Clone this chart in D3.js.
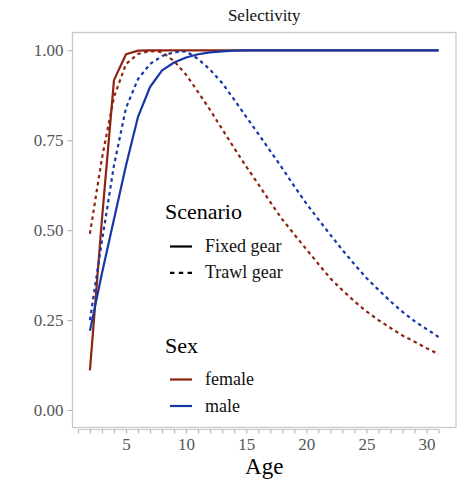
<!DOCTYPE html>
<html><head><meta charset="utf-8">
<script src="https://cdn.jsdelivr.net/npm/d3@7"></script>
<style>body{margin:0;background:#fff}svg{display:block}svg text{font-family:"Liberation Serif","Times New Roman","DejaVu Serif",serif !important}</style>
</head><body>
<svg id="chart" width="462" height="482"></svg>
<script>
const ages = d3.range(2, 32);
const fixedFemale = [0.11,0.53,0.917,0.989,0.999,1,1,1,1,1,1,1,1,1,1,1,1,1,1,1,1,1,1,1,1,1,1,1,1,1];
const fixedMale   = [0.22,0.38,0.53,0.68,0.815,0.898,0.944,0.966,0.98,0.989,0.994,0.997,0.999,1,1,1,1,1,1,1,1,1,1,1,1,1,1,1,1,1];
const trawlFemale = [0.49,0.70,0.87,0.962,0.99,0.998,0.995,0.97,0.932,0.884,0.834,0.781,0.728,0.677,0.628,0.578,0.53,0.488,0.447,0.406,0.366,0.333,0.302,0.274,0.25,0.228,0.207,0.19,0.172,0.155];
const trawlMale   = [0.25,0.47,0.68,0.84,0.92,0.962,0.984,0.995,0.997,0.976,0.946,0.909,0.863,0.815,0.768,0.72,0.672,0.622,0.574,0.53,0.487,0.445,0.405,0.367,0.334,0.302,0.273,0.247,0.225,0.203];
const yTicks = [0, 0.25, 0.5, 0.75, 1];
const yTickLabels = ["0.00","0.25","0.50","0.75","1.00"];
const xTicks = [5, 10, 15, 20, 25, 30];
const xMinorTicks = d3.range(1, 32);
const scenarios = ["Fixed gear", "Trawl gear"];
const sexes = ["female", "male"];

const FONT = '"Liberation Serif","Times New Roman","DejaVu Serif",serif';
const colors = {female: "#8E2410", male: "#1737A6"};
const dash = {"Fixed gear": null, "Trawl gear": "3.5,3.5"};
const series = [
  {scenario: "Fixed gear", sex: "female", values: fixedFemale},
  {scenario: "Fixed gear", sex: "male", values: fixedMale},
  {scenario: "Trawl gear", sex: "female", values: trawlFemale},
  {scenario: "Trawl gear", sex: "male", values: trawlMale}
];

const svg = d3.select("#chart");
const panel = {left: 72.5, right: 456, top: 32.5, bottom: 427.5};
const x = d3.scaleLinear().domain([0.55, 32.45]).range([panel.left, panel.right]);
const y = d3.scaleLinear().domain([0, 1]).range([410, 50.3]);

svg.append("rect").attr("x", panel.left).attr("y", panel.top)
  .attr("width", panel.right - panel.left).attr("height", panel.bottom - panel.top)
  .attr("fill", "#fff").attr("stroke", "#c9c9c9").attr("stroke-width", 1.3);

// y axis ticks
const yAxis = d3.axisLeft(y).tickValues(yTicks).tickSize(5).tickPadding(4)
  .tickFormat((d, i) => yTickLabels[i]);
const gy = svg.append("g").attr("transform", `translate(${panel.left},0)`).call(yAxis)
  .attr("font-family", FONT);
gy.select(".domain").remove();
gy.selectAll(".tick line").attr("stroke", "#b5b5b5").attr("stroke-width", 1.1);
gy.selectAll(".tick text").attr("fill", "#555").attr("font-size", 17).style("font-family", FONT);

// x axis
const xAxis = d3.axisBottom(x).tickValues(xMinorTicks).tickSize(4).tickPadding(4)
  .tickFormat(d => xTicks.includes(d) ? d : "");
const gx = svg.append("g").attr("transform", `translate(0,${panel.bottom + 2})`).call(xAxis)
  .attr("font-family", FONT);
gx.select(".domain").attr("stroke", "#c9c9c9").attr("stroke-width", 1.1)
  .attr("d", `M${x(1)},0H${x(31)}`);
gx.selectAll(".tick line").attr("stroke", "#b5b5b5").attr("stroke-width", 1.1);
gx.selectAll(".tick text").attr("fill", "#555").attr("font-size", 17).style("font-family", FONT)
  .attr("dy", "0.71em");

// lines
const line = d3.line().x((d, i) => x(ages[i])).y(d => y(d));
svg.append("g").selectAll("path").data(series).join("path")
  .attr("d", d => line(d.values))
  .attr("fill", "none")
  .attr("stroke", d => colors[d.sex])
  .attr("stroke-width", 2.2)
  .attr("stroke-linejoin", "round")
  .attr("stroke-dasharray", d => dash[d.scenario]);

// title
svg.append("text").attr("x", (panel.left + panel.right) / 2).attr("y", 21)
  .attr("text-anchor", "middle").attr("font-size", 17).attr("fill", "#111").style("font-family", FONT).text("Selectivity");
svg.append("text").attr("x", (panel.left + panel.right) / 2).attr("y", 474)
  .attr("text-anchor", "middle").attr("font-size", 23).attr("fill", "#000").style("font-family", FONT).text("Age");

// legends
const lg = svg.append("g").style("font-family", FONT);
lg.append("text").attr("x", 165).attr("y", 218.5).attr("font-size", 22).attr("fill", "#000").text("Scenario");
scenarios.forEach((s, i) => {
  const yy = 246.5 + i * 26.3;
  lg.append("line").attr("x1", 170).attr("x2", 192).attr("y1", yy).attr("y2", yy)
    .attr("stroke", "#000").attr("stroke-width", 2.2).attr("stroke-dasharray", s === "Trawl gear" ? "4.4,4.4" : null);
  lg.append("text").attr("x", 205).attr("y", yy + 5.5).attr("font-size", 18).attr("fill", "#111").text(s);
});
lg.append("text").attr("x", 165).attr("y", 352.5).attr("font-size", 22).attr("fill", "#000").text("Sex");
sexes.forEach((s, i) => {
  const yy = 379.5 + i * 26.5;
  lg.append("line").attr("x1", 170).attr("x2", 192).attr("y1", yy).attr("y2", yy)
    .attr("stroke", colors[s]).attr("stroke-width", 2.2);
  lg.append("text").attr("x", 205).attr("y", yy + 5.5).attr("font-size", 18).attr("fill", "#111").text(s);
});
</script>
</body></html>
